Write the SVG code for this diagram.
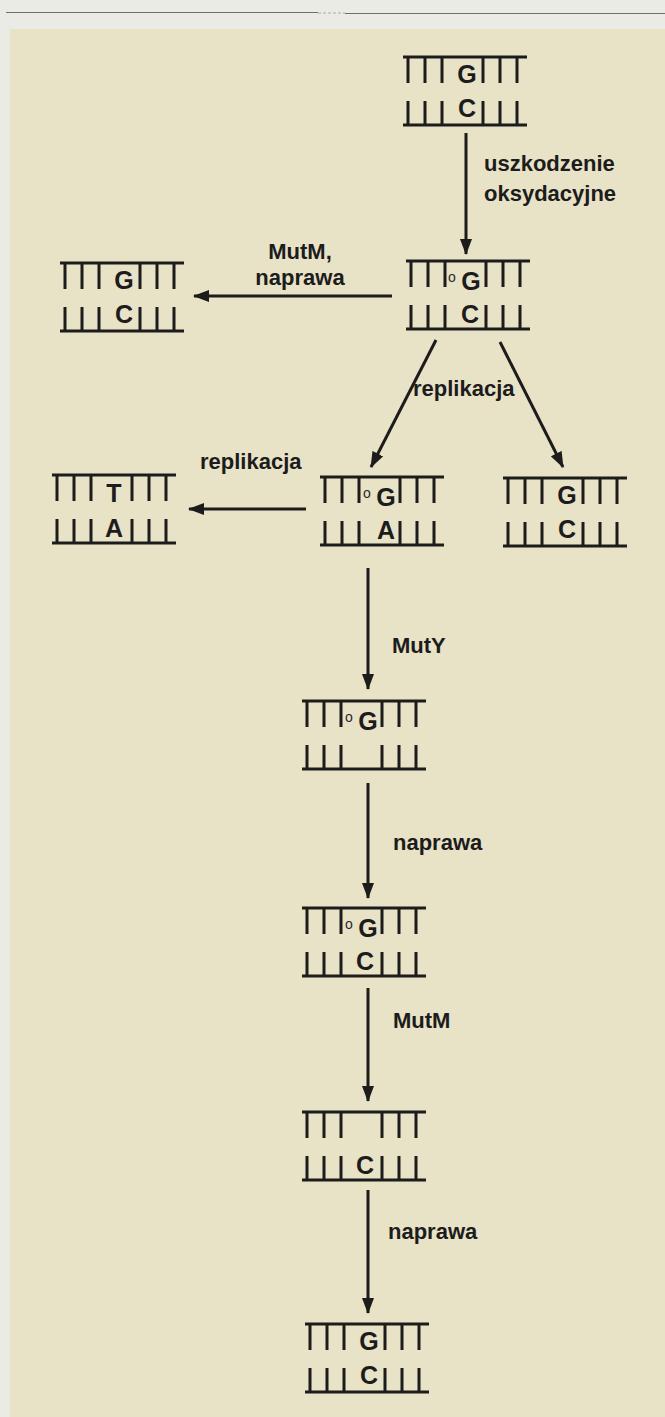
<svg xmlns="http://www.w3.org/2000/svg" xmlns:xlink="http://www.w3.org/1999/xlink" width="665" height="1417" viewBox="0 0 665 1417">
  <style>
    .strand { fill: none; stroke: #1c1c1c; stroke-width: 3; }
    .base { font-family: "Liberation Sans", Arial, sans-serif; font-weight: bold; font-size: 25px; fill: #1c1c1c; text-anchor: middle; }
    .oxo { font-family: "Liberation Sans", Arial, sans-serif; font-size: 14px; fill: #2a2a2a; text-anchor: middle; }
    .label { font-family: "Liberation Sans", Arial, sans-serif; font-weight: bold; font-size: 22px; fill: #1c1c1c; }
    .arrow { fill: none; stroke: #1c1c1c; stroke-width: 3; marker-end: url(#head); }
  </style>
  <defs>
    <marker id="head" viewBox="0 0 16 12" refX="15" refY="6" markerWidth="16" markerHeight="12" markerUnits="userSpaceOnUse" orient="auto">
      <path d="M0,0 L16,6 L0,12 Z" fill="#1c1c1c"/>
    </marker>
    <!-- upper strand: backbone with six base ticks, gap in the middle for the base letter -->
    <path id="top" class="strand" d="M0,0 H124 M5,0 V26 M22,0 V26 M39,0 V26 M80,0 V26 M97,0 V26 M114,0 V26"/>
    <!-- lower strand -->
    <path id="bot" class="strand" d="M0,68 H124 M5,44 V68 M22,44 V68 M39,44 V68 M80,44 V68 M97,44 V68 M114,44 V68"/>
  </defs>

  <!-- page and panel -->
  <rect x="0" y="0" width="665" height="1417" fill="#ebebe6"/>
  <rect x="10" y="29" width="655" height="1388" fill="#e8e2c6"/>
  <path d="M6,12.5 H318" stroke="#6f6f6f" stroke-width="1.2"/>
  <path d="M318,13 H345" stroke="#9a9a9a" stroke-width="0.8" stroke-dasharray="3,2"/>
  <path d="M345,13.5 H665" stroke="#6f6f6f" stroke-width="1.2"/>

  <!-- DNA fragments -->
  <g id="n1" transform="translate(403,57)">
    <use xlink:href="#top"/><use xlink:href="#bot"/>
    <text class="base" x="64" y="26">G</text>
    <text class="base" x="64" y="60">C</text>
  </g>
  <g id="n2" transform="translate(406,261)">
    <use xlink:href="#top"/><use xlink:href="#bot"/>
    <text class="oxo" x="46" y="21">o</text>
    <text class="base" x="65" y="29">G</text>
    <text class="base" x="64" y="62">C</text>
  </g>
  <g id="n3" transform="translate(60,263)">
    <use xlink:href="#top"/><use xlink:href="#bot"/>
    <text class="base" x="64" y="26">G</text>
    <text class="base" x="64" y="60">C</text>
  </g>
  <g id="n4" transform="translate(320,477)">
    <use xlink:href="#top"/><use xlink:href="#bot"/>
    <text class="oxo" x="47" y="21" fill="#555">o</text>
    <text class="base" x="66" y="29">G</text>
    <text class="base" x="66" y="62">A</text>
  </g>
  <g id="n5" transform="translate(52,475)">
    <use xlink:href="#top"/><use xlink:href="#bot"/>
    <text class="base" x="62" y="27">T</text>
    <text class="base" x="62" y="62">A</text>
  </g>
  <g id="n6" transform="translate(503,478)">
    <use xlink:href="#top"/><use xlink:href="#bot"/>
    <text class="base" x="64" y="26">G</text>
    <text class="base" x="64" y="60">C</text>
  </g>
  <g id="n7" transform="translate(302,701)">
    <use xlink:href="#top"/><use xlink:href="#bot"/>
    <text class="oxo" x="47" y="21">o</text>
    <text class="base" x="66" y="29">G</text>
  </g>
  <g id="n8" transform="translate(302,908)">
    <use xlink:href="#top"/><use xlink:href="#bot"/>
    <text class="oxo" x="47" y="21">o</text>
    <text class="base" x="66" y="29">G</text>
    <text class="base" x="63" y="62">C</text>
  </g>
  <g id="n9" transform="translate(302,1112)">
    <use xlink:href="#top"/><use xlink:href="#bot"/>
    <text class="base" x="63" y="62">C</text>
  </g>
  <g id="n10" transform="translate(305,1324)">
    <use xlink:href="#top"/><use xlink:href="#bot"/>
    <text class="base" x="64" y="26">G</text>
    <text class="base" x="64" y="60">C</text>
  </g>

  <!-- reaction arrows -->
  <g id="connectors">
    <line class="arrow" x1="466" y1="133" x2="466" y2="254"/>
    <line class="arrow" x1="392" y1="296" x2="194" y2="296"/>
    <line class="arrow" x1="436" y1="340" x2="371" y2="467"/>
    <line class="arrow" x1="500" y1="342" x2="563" y2="467"/>
    <line class="arrow" x1="306" y1="509" x2="189" y2="509"/>
    <line class="arrow" x1="368" y1="568" x2="368" y2="689"/>
    <line class="arrow" x1="368" y1="783" x2="368" y2="898"/>
    <line class="arrow" x1="368" y1="988" x2="368" y2="1101"/>
    <line class="arrow" x1="368" y1="1190" x2="368" y2="1313"/>
  </g>

  <!-- arrow labels -->
  <g id="labels">
    <text class="label" x="484" y="171">uszkodzenie</text>
    <text class="label" x="484" y="201">oksydacyjne</text>
    <text class="label" x="300" y="259" text-anchor="middle">MutM,</text>
    <text class="label" x="300" y="285" text-anchor="middle">naprawa</text>
    <text class="label" x="413" y="396">replikacja</text>
    <text class="label" x="200" y="469">replikacja</text>
    <text class="label" x="392" y="653">MutY</text>
    <text class="label" x="393" y="850">naprawa</text>
    <text class="label" x="393" y="1028">MutM</text>
    <text class="label" x="388" y="1239">naprawa</text>
  </g>
</svg>
